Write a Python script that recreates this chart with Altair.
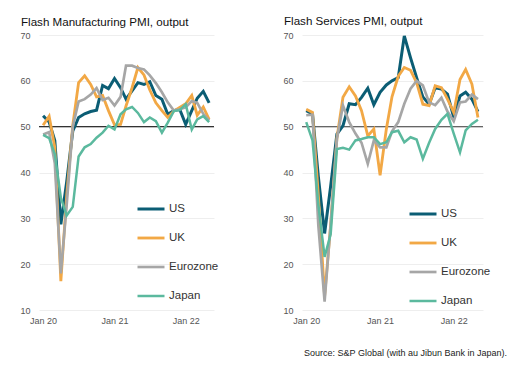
import altair as alt
import pandas as pd

months = [f"{y}-{m:02d}-01" for y in (2020, 2021, 2022) for m in range(1, 13)][:29]

countries = ["US", "UK", "Eurozone", "Japan"]
colors = ["#0b5d74", "#f2a845", "#a6a6a6", "#5bb99e"]
widths = [3.0, 2.5, 2.5, 1.8]

mfg_us = [52.4, 51.0, 47.0, 28.7, 38.0, 49.0, 52.0, 52.8, 53.3, 53.6, 59.0, 58.3, 60.5, 58.5,
          56.0, 57.8, 59.6, 59.2, 59.8, 56.8, 56.0, 52.7, 53.5, 53.8, 50.5, 53.5, 56.2, 57.7, 55.2]
mfg_uk = [50.3, 52.3, 45.5, 16.3, 35.0, 50.3, 59.6, 61.1, 59.2, 56.5, 56.8, 53.5, 50.4, 50.5,
          54.5, 58.5, 62.9, 61.3, 58.0, 55.2, 53.5, 52.0, 53.4, 54.2, 55.0, 56.8, 52.5, 54.3, 51.6]
mfg_ez = [48.3, 48.8, 42.0, 18.0, 33.0, 50.0, 55.5, 56.0, 57.0, 58.4, 55.8, 56.3, 54.6, 56.5,
          63.3, 63.3, 62.8, 62.5, 61.2, 59.5, 57.5, 55.3, 53.5, 53.8, 54.2, 55.6, 55.2, 52.8, 51.3]
mfg_jp = [48.2, 47.5, 44.0, 34.5, 30.6, 32.5, 43.5, 45.5, 46.2, 47.6, 48.7, 50.2, 49.4, 52.7,
          53.8, 54.3, 53.0, 51.0, 52.0, 51.2, 48.7, 50.9, 53.4, 53.6, 54.9, 49.4, 51.6, 52.3, 51.0]

svc_us = [53.5, 52.8, 39.1, 26.7, 37.0, 48.4, 50.2, 55.0, 54.8, 56.4, 58.4, 54.8, 57.5, 59.1,
          60.0, 60.7, 69.8, 65.0, 60.7, 56.5, 54.9, 58.5, 58.2, 57.1, 52.0, 56.7, 57.5, 56.0, 53.3]
svc_uk = [53.8, 53.1, 35.0, 13.0, 28.5, 47.5, 56.4, 58.7, 56.7, 53.5, 48.0, 49.5, 39.4, 49.5,
          56.5, 61.0, 62.9, 62.3, 59.6, 54.9, 54.6, 58.9, 58.5, 56.0, 53.1, 60.3, 62.5, 59.3, 52.0]
svc_ez = [52.5, 52.6, 28.4, 11.8, 28.7, 47.3, 54.6, 51.0, 48.5, 46.5, 41.9, 47.0, 45.5, 45.5,
          49.0, 51.0, 55.0, 58.3, 60.0, 59.0, 55.3, 54.7, 56.3, 53.3, 51.2, 55.3, 55.5, 57.0, 56.0]
svc_jp = [51.0, 47.0, 33.0, 21.6, 26.5, 45.1, 45.4, 45.0, 47.0, 47.3, 47.7, 47.7, 46.2, 46.6,
          48.8, 49.1, 46.6, 47.7, 47.2, 43.0, 46.5, 49.5, 51.5, 52.8, 48.5, 44.4, 49.2, 50.6, 51.5]

y_ticks = [10, 20, 30, 40, 50, 60, 70]
reference_level = [50]
source_note = "Source: S&P Global (with au Jibun Bank in Japan)."

SANS = "Liberation Sans, Arial, sans-serif"


def long_frame(series):
    rows = []
    for c, vals in zip(countries, series):
        for d, v in zip(months, vals):
            rows.append({"date": d, "country": c, "value": v})
    return pd.DataFrame(rows)


def panel(series, title, width, rule_color, lx, ly):
    df = long_frame(series)
    x = alt.X(
        "date:T",
        scale=alt.Scale(domain=[alt.DateTime(year=2019, month=12, date=11),
                                alt.DateTime(year=2022, month=5, date=26)]),
        axis=alt.Axis(
            values=[alt.DateTime(year=yr, month=1, date=1) for yr in (2020, 2021, 2022)],
            format="%b %y", title=None, grid=False, ticks=False, domain=False,
            labelFont=SANS, labelFontSize=9, labelColor="#555", labelPadding=6,
        ),
    )
    y = alt.Y(
        "value:Q",
        scale=alt.Scale(domain=[10, 70], nice=False, zero=False),
        axis=alt.Axis(
            values=y_ticks, title=None, grid=True, gridColor="#eeeeee", gridWidth=1,
            ticks=False, domain=False, labelFont=SANS, labelFontSize=9,
            labelColor="#555", labelPadding=9,
        ),
    )
    leg = alt.Legend(
        title=None, orient="none", legendX=lx, legendY=ly, symbolType="stroke",
        symbolSize=729, labelFont=SANS, labelFontSize=11.5, labelColor="#333",
        rowPadding=8, labelOffset=3,
    )
    lines = alt.Chart(df).mark_line().encode(
        x=x,
        y=y,
        color=alt.Color("country:N", scale=alt.Scale(domain=countries, range=colors), legend=leg),
        strokeWidth=alt.StrokeWidth("country:N", scale=alt.Scale(domain=countries, range=widths), legend=leg),
    )
    rule = alt.Chart(pd.DataFrame({"v": reference_level})).mark_rule(
        color=rule_color, strokeWidth=1.3
    ).encode(y=alt.Y("v:Q"))
    return alt.layer(rule, lines).properties(
        width=width, height=275,
        title=alt.TitleParams(title, anchor="start", font=SANS, fontSize=11.6,
                              fontWeight="normal", color="#111", offset=2, dx=1),
    )


left = panel([mfg_us, mfg_uk, mfg_ez, mfg_jp], "Flash Manufacturing PMI, output", 175, "#333333", 97, 159)
right = panel([svc_us, svc_uk, svc_ez, svc_jp], "Flash Services PMI, output", 181, "#666666", 106, 164)

chart = alt.hconcat(left, right, spacing=63).resolve_scale(
    color="independent", strokeWidth="independent"
).resolve_legend(
    color="independent", strokeWidth="independent"
).properties(
    padding={"left": 11, "top": 8, "right": 5, "bottom": 5},
    title=alt.TitleParams(source_note, orient="bottom", anchor="end", font=SANS,
                          fontSize=9, fontWeight="normal", color="#222", offset=24, dx=16),
).configure_view(stroke=None)

chart.save("out.html", embed_options={"renderer": "svg", "actions": False})
